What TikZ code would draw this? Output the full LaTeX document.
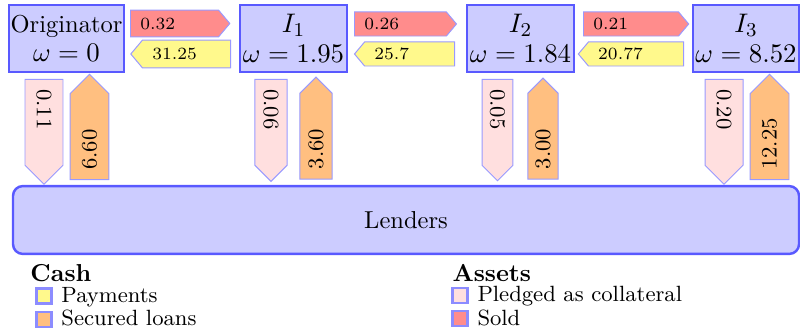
\documentclass[tikz,border=0pt]{standalone}
\usepackage{amsmath, amssymb}
\usepackage{tikz}
\usetikzlibrary{shapes,arrows}

\begin{document}
\begin{tikzpicture}[x=0.408pt,y=-0.408pt,
    bank/.style={draw=blue!65,fill=blue!20,line width=1pt,inner sep=0pt,
        align=center,minimum height=27.3pt},
    inv/.style={bank,font=\fontsize{10.95}{12.4}\selectfont},
    flow/.style={signal,draw=blue!40,inner xsep=4pt,inner ysep=1pt},
    hflow/.style={flow,signal pointer angle=100,font=\scriptsize},
    vflow/.style={flow,signal pointer angle=90,signal to=east,font=\small,
        anchor=west,text width=27pt},
    key/.style={draw=blue!45,line width=1pt,minimum size=6.2pt,inner sep=0pt},
    keytext/.style={anchor=base west,inner sep=0pt,font=\small}]
    \pgfmathsetmacro{\ytop}{38.5}
    \pgfmathsetmacro{\ysold}{24}
    \pgfmathsetmacro{\ypay}{54}

    \useasboundingbox (0,0) rectangle (800,335);

    % Draw the banks
    \node [bank,minimum width=46.9pt] (orig) at (66.5,\ytop)
        {Originator\\\fontsize{10.95}{12.4}\selectfont$\omega = 0$};
    \node [inv,minimum width=43.7pt] (inv1) at (293.5,\ytop) {$I_1$\\$\omega = 1.95$};
    \node [inv,minimum width=43.7pt] (inv2) at (520.5,\ytop) {$I_2$\\$\omega = 1.84$};
    \node [inv,minimum width=43.2pt] (inv3) at (746,\ytop) {$I_3$\\$\omega = 8.52$};

    % Draw the lenders
    \node [draw=blue!65,fill=blue!20,line width=1pt,rounded corners=4pt,
        minimum width=320.7pt,minimum height=27.7pt] (lenders) at (406,220) {Lenders};

    % Draw sold assets and payments between the banks
    \node [hflow,fill=red!45,anchor=west,minimum height=11pt,text width=27.9pt]
        (sold1) at (130,23.5) {0.32};
    \node [hflow,fill=yellow!45,signal to=west,anchor=east,minimum height=11.4pt,
        text width=27.9pt] (pay1) at (231,\ypay) {31.25};
    \node [hflow,fill=red!45,anchor=west,minimum height=9.8pt,text width=29.5pt]
        (sold2) at (354,\ysold) {0.26};
    \node [hflow,fill=yellow!45,signal to=west,anchor=east,minimum height=9.8pt,
        text width=28.7pt] (pay2) at (455,\ypay) {25.7};
    \node [hflow,fill=red!45,anchor=west,minimum height=9.8pt,text width=30.8pt]
        (sold3) at (583,\ysold) {0.21};
    \node [hflow,fill=yellow!45,signal to=west,anchor=east,minimum height=9.8pt,
        text width=30.8pt] (pay3) at (684,\ypay) {20.77};

    % Draw collateral and secured loans
    \node [vflow,fill=pink!50,rotate=-90,minimum height=15.5pt] (pledge0) at (44,79) {0.11};
    \node [vflow,fill=orange!50,rotate=90,minimum height=15.9pt] (loan0) at (89.5,180) {6.60};
    \node [vflow,fill=pink!50,rotate=-90,minimum height=13.1pt] (pledge1) at (271,79) {0.06};
    \node [vflow,fill=orange!50,rotate=90,minimum height=13.1pt] (loan1) at (316,179.5) {3.60};
    \node [vflow,fill=pink!50,rotate=-90,minimum height=12.6pt] (pledge2) at (497.5,79) {0.05};
    \node [vflow,fill=orange!50,rotate=90,minimum height=12.3pt] (loan2) at (543,179.5) {3.00};
    \node [vflow,fill=pink!50,rotate=-90,minimum height=15.5pt] (pledge3) at (724,79) {0.20};
    \node [vflow,fill=orange!50,rotate=90,minimum height=15.9pt] (loan3) at (769.5,180) {12.25};

    % Draw the legend
    \node [anchor=base west,inner sep=0pt,font=\bfseries] (cash) at (30,281) {Cash};
    \node [key,fill=yellow!45] (kpay) at (44,296) {};
    \node [keytext] (tpay) at (61,302) {Payments};
    \node [key,fill=orange!50] (kloan) at (44,319.5) {};
    \node [keytext] (tloan) at (61,325.5) {Secured loans};
    \node [anchor=base west,inner sep=0pt,font=\bfseries] (assets) at (452,281) {Assets};
    \node [key,fill=pink!50] (kpledge) at (460,295.5) {};
    \node [keytext] (tpledge) at (477,301) {Pledged as collateral};
    \node [key,fill=red!45] (ksold) at (460,318.5) {};
    \node [keytext] (tsold) at (477,325.5) {Sold};

\end{tikzpicture}
\end{document}
